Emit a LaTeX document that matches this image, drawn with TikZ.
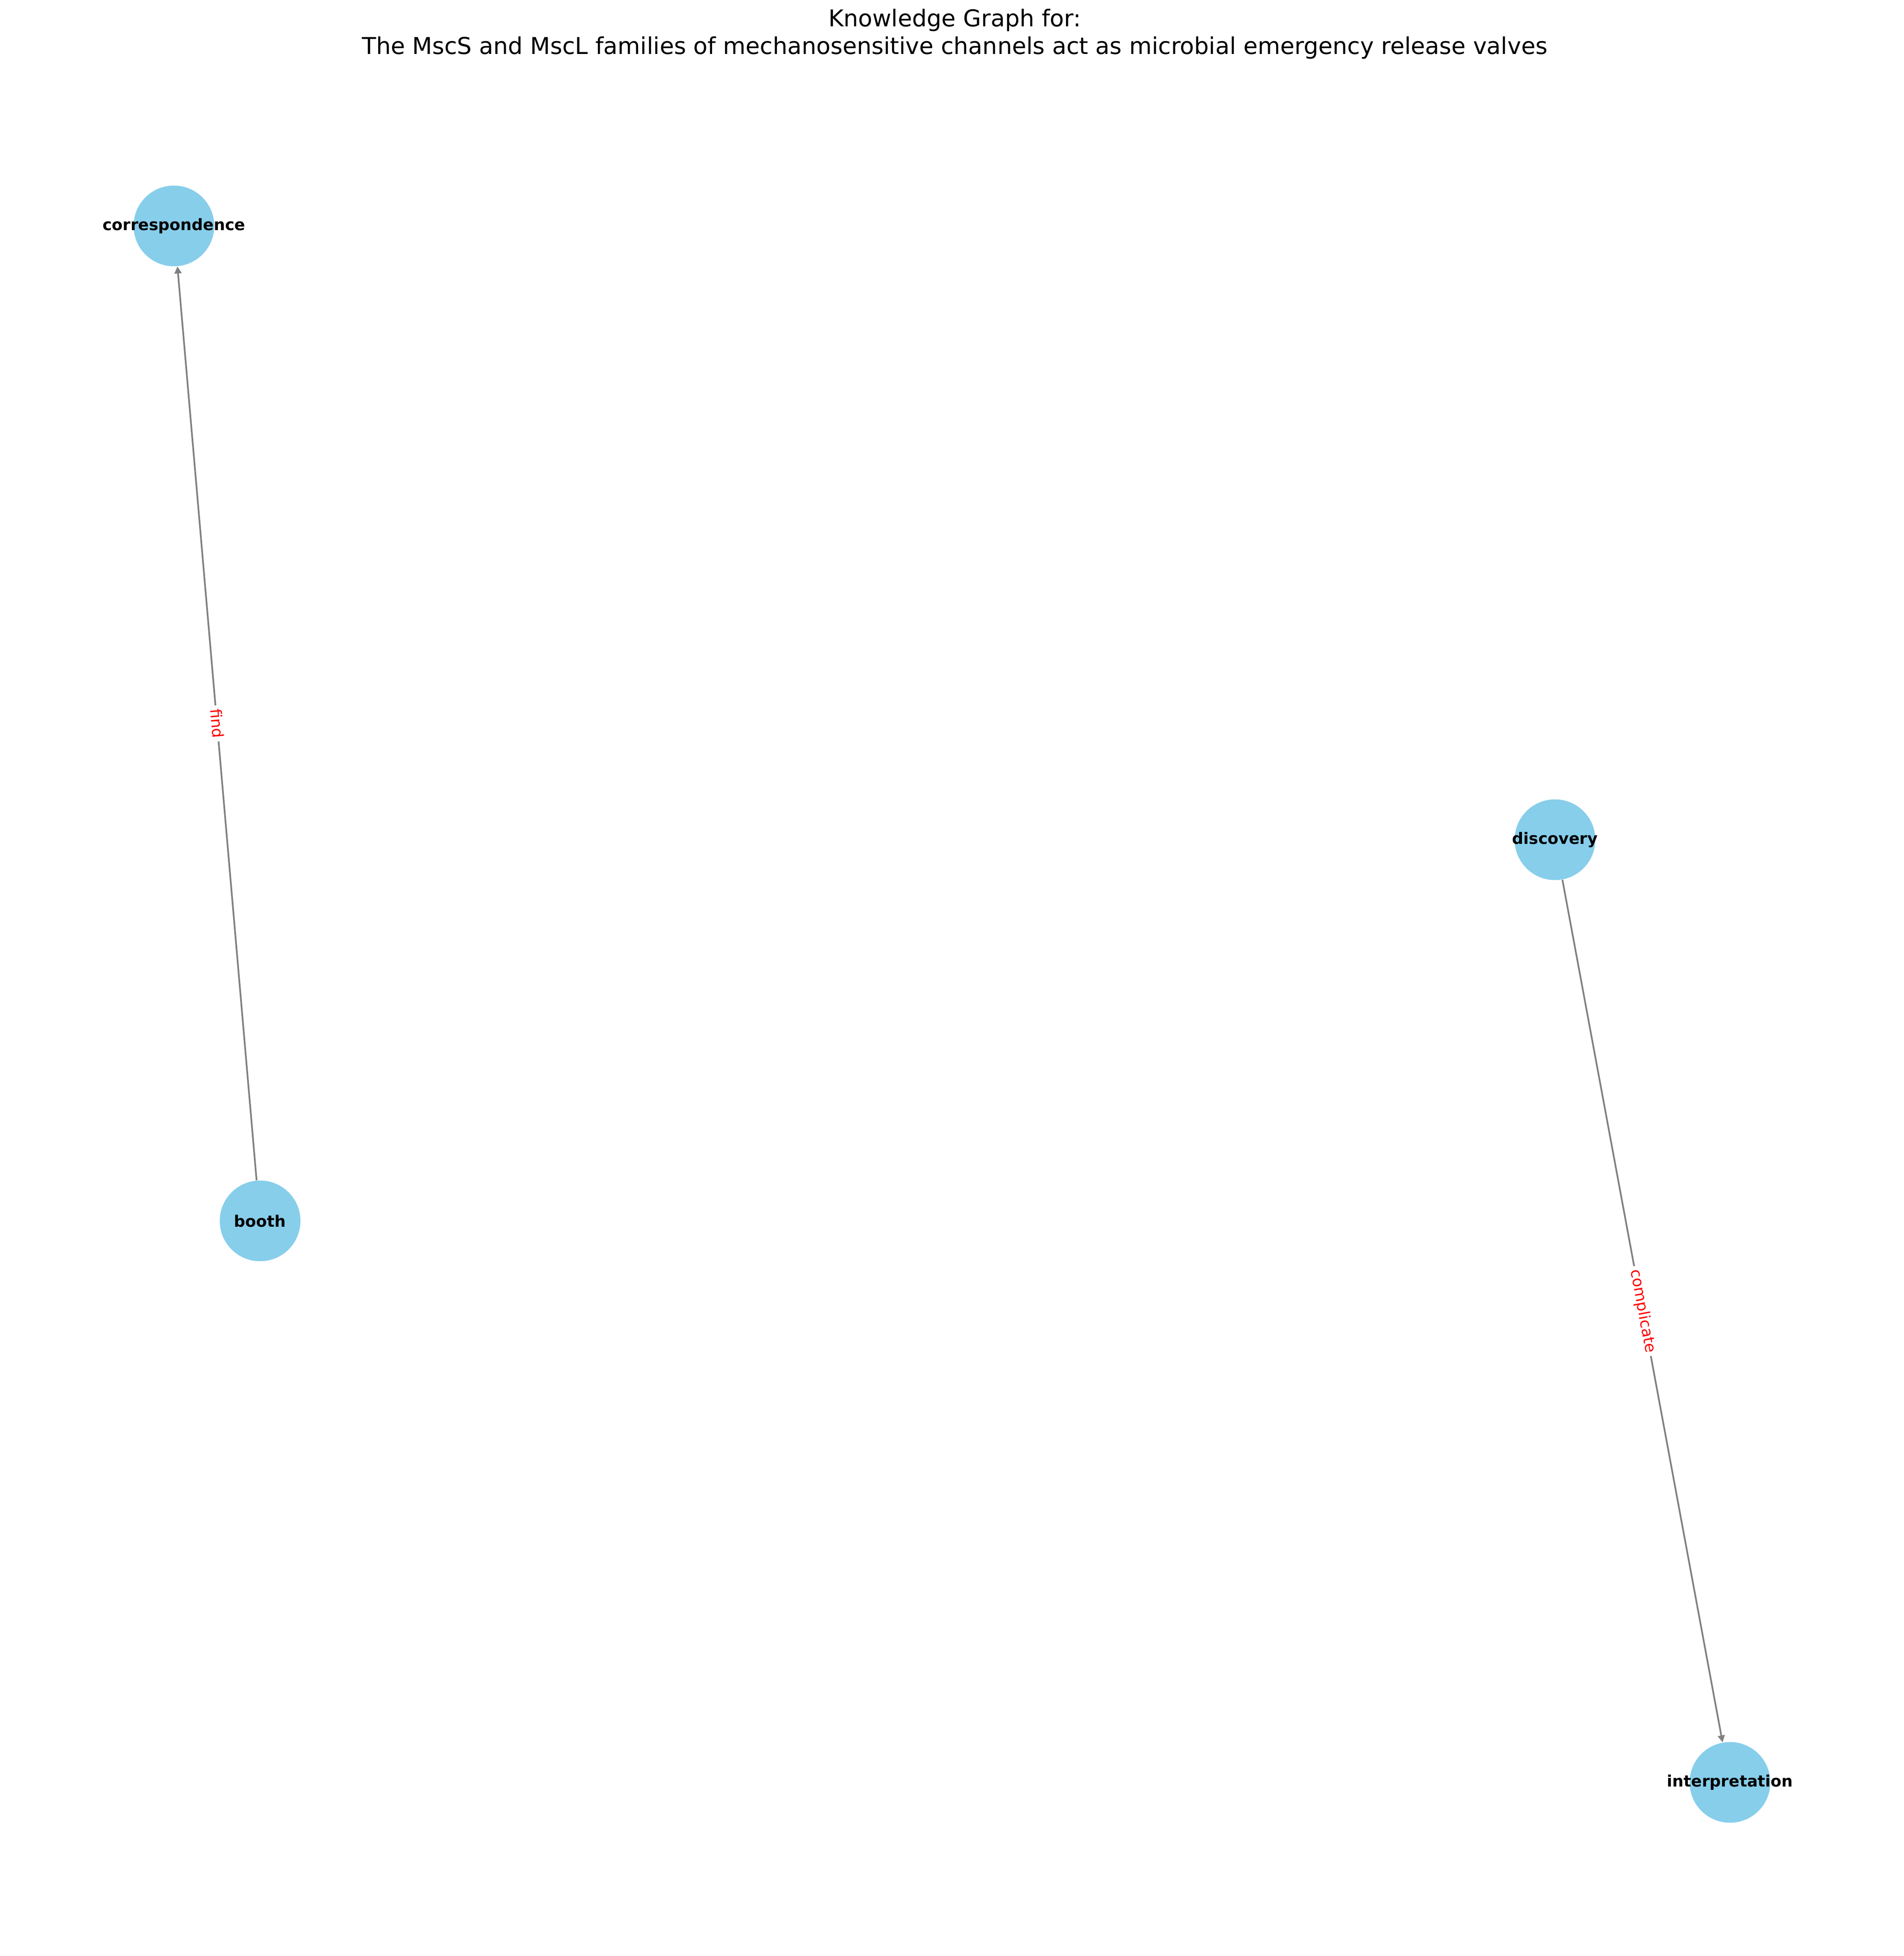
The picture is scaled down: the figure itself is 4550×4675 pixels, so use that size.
\documentclass[tikz,border=0pt]{standalone}
\usepackage{fontspec}
\setmainfont{DejaVu Sans}
\usetikzlibrary{arrows.meta}
\definecolor{nodeblue}{HTML}{87CEEB}
\definecolor{edgegray}{HTML}{808080}
\tikzset{
  kgnode/.style={circle, fill=nodeblue, draw=none, inner sep=0pt, minimum size=46.3pt},
  kglabel/.style={font=\fontsize{9.05}{10}\selectfont\bfseries, text=black, inner sep=0pt},
  kgedge/.style={draw=edgegray, line width=0.96pt, -{Triangle[length=4pt,width=4pt]}},
  kgedgelabel/.style={midway, sloped, fill=white, inner sep=2pt, text=red, font=\fontsize{8.8}{10}\selectfont},
  kgtitle/.style={font=\fontsize{13.3}{16}\selectfont, anchor=base, inner sep=0pt}
}
\begin{document}
\begin{tikzpicture}[x=0.24pt, y=-0.24pt]
\useasboundingbox (0,0) rectangle (4550,4675);
% title
\node[kgtitle] (title1) at (2282,64) {Knowledge Graph for:};
\node[kgtitle] (title2) at (2282,130) {The MscS and MscL families of mechanosensitive channels act as microbial emergency release valves};
% nodes
\node[kgnode] (corr) at (415.7,540) {};
\node[kgnode] (booth) at (621.7,2918) {};
\node[kgnode] (disc) at (3716.7,2007) {};
\node[kgnode] (interp) at (4135,4260) {};
% edges
\draw[kgedge] (booth) -- node[kgedgelabel] (lfind) {find} (corr);
\draw[kgedge] (disc) -- node[kgedgelabel] (lcomp) {complicate} (interp);
% node labels
\node[kglabel] (tcorr) at (corr) {correspondence};
\node[kglabel] (tbooth) at (booth) {booth};
\node[kglabel] (tdisc) at (disc) {discovery};
\node[kglabel] (tinterp) at (interp) {interpretation};
\end{tikzpicture}
\end{document}
